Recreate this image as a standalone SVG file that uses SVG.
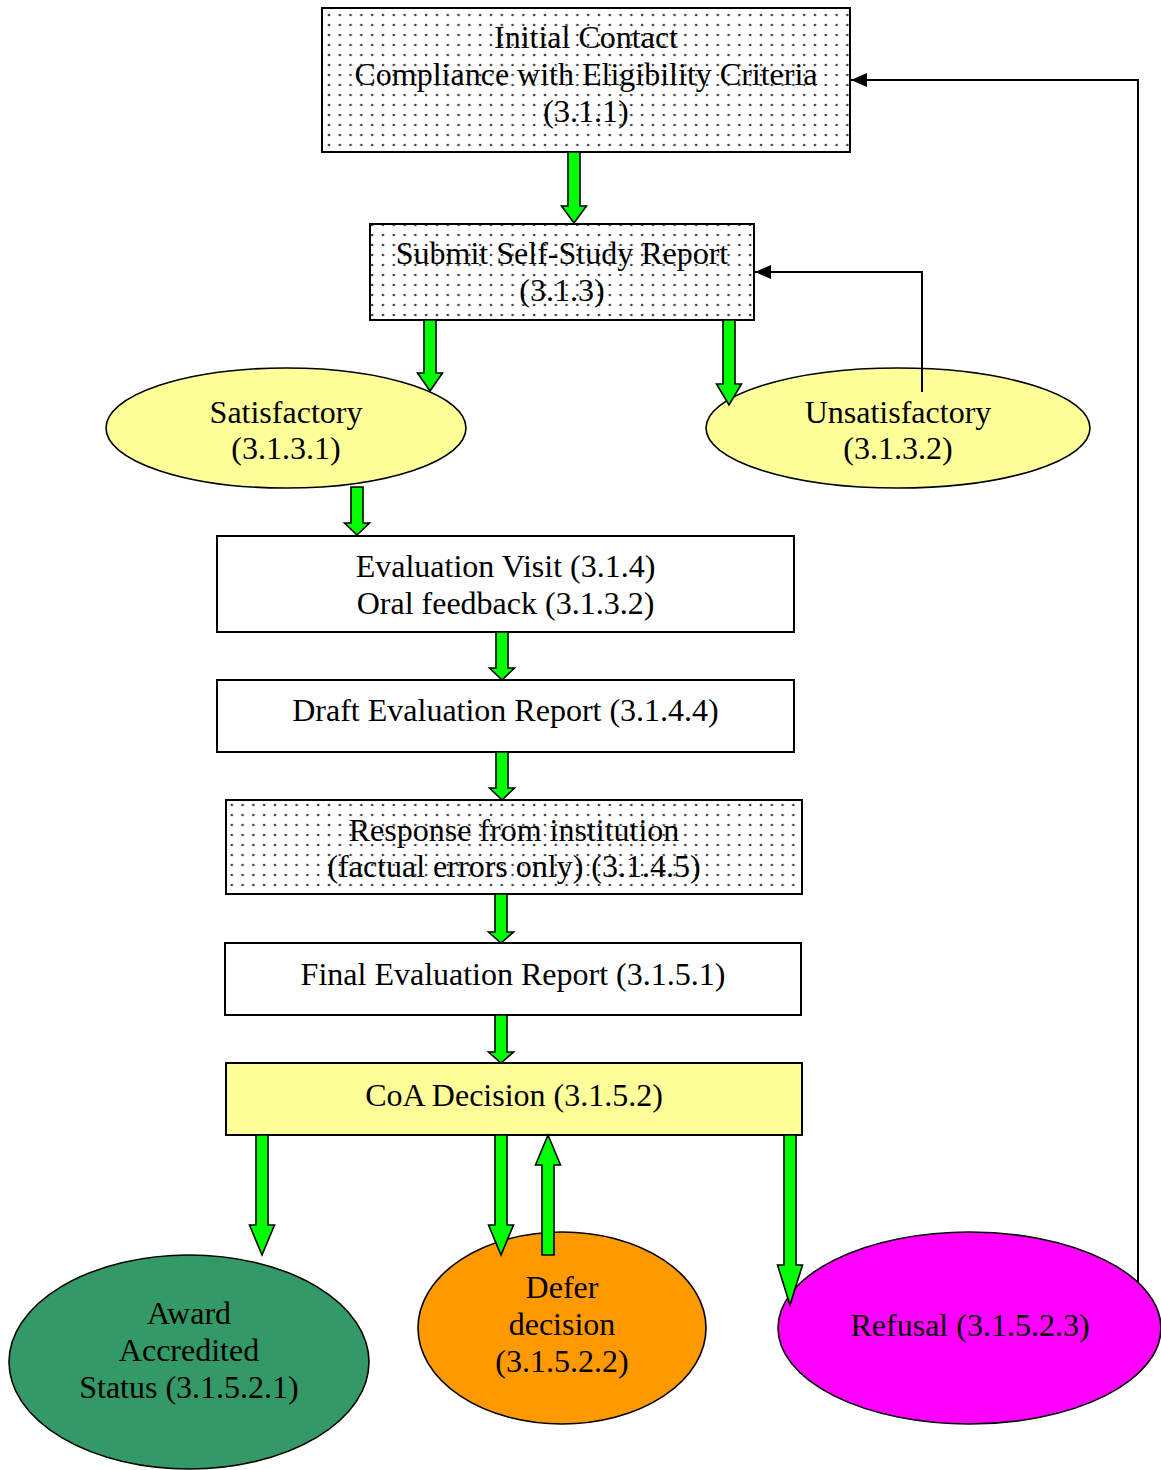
<svg xmlns="http://www.w3.org/2000/svg" width="1161" height="1470" viewBox="0 0 1161 1470">
<defs>
<pattern id="dots" patternUnits="userSpaceOnUse" width="10.8" height="10">
<rect width="10.8" height="10" fill="#ffffff"/>
<circle cx="5" cy="5" r="1.35" fill="#444444"/>
</pattern>
<marker id="ah" markerWidth="16" markerHeight="14" refX="16" refY="7" orient="auto" markerUnits="userSpaceOnUse">
<path d="M0,0 L16,7 L0,14 Z" fill="#000"/>
</marker>
</defs>
<style>
text{font-family:"Liberation Serif","Times New Roman",serif;font-size:32px;fill:#000;text-anchor:middle}
.box{stroke:#000;stroke-width:2}
.ell{stroke:#000;stroke-width:1.6}
.arr{fill:#00ff00;stroke:#000;stroke-width:1.6;stroke-linejoin:miter}
.ln{fill:none;stroke:#000;stroke-width:2}
</style>
<rect width="1161" height="1470" fill="#ffffff"/>

<g id="n-initial">
<rect class="box" x="322" y="8" width="528" height="144" fill="url(#dots)"/>
<text x="586" y="48">Initial Contact</text>
<text x="586" y="85">Compliance with Eligibility Criteria</text>
<text x="586" y="122">(3.1.1)</text>
</g>
<g id="n-submit">
<rect class="box" x="370" y="224" width="384" height="96" fill="url(#dots)"/>
<text x="562" y="264">Submit Self-Study Report</text>
<text x="562" y="301">(3.1.3)</text>
</g>
<g id="n-sat">
<ellipse class="ell" cx="286" cy="428" rx="180" ry="60" fill="#ffff99"/>
<text x="286" y="423">Satisfactory</text>
<text x="286" y="459">(3.1.3.1)</text>
</g>
<g id="n-unsat">
<ellipse class="ell" cx="898" cy="428" rx="192" ry="60" fill="#ffff99"/>
<text x="898" y="423">Unsatisfactory</text>
<text x="898" y="459">(3.1.3.2)</text>
</g>
<g id="n-eval">
<rect class="box" x="217" y="536" width="577" height="96" fill="#ffffff"/>
<text x="505.5" y="577">Evaluation Visit (3.1.4)</text>
<text x="505.5" y="614">Oral feedback (3.1.3.2)</text>
</g>
<g id="n-draft">
<rect class="box" x="217" y="680" width="577" height="72" fill="#ffffff"/>
<text x="505.5" y="721">Draft Evaluation Report (3.1.4.4)</text>
</g>
<g id="n-response">
<rect class="box" x="226" y="800" width="576" height="94" fill="url(#dots)"/>
<text x="514" y="841">Response from institution</text>
<text x="514" y="877">(factual errors only) (3.1.4.5)</text>
</g>
<g id="n-final">
<rect class="box" x="225" y="943" width="576" height="72" fill="#ffffff"/>
<text x="513" y="985">Final Evaluation Report (3.1.5.1)</text>
</g>
<g id="n-coa">
<rect class="box" x="226" y="1063" width="576" height="72" fill="#ffff99"/>
<text x="514" y="1106">CoA Decision (3.1.5.2)</text>
</g>
<g id="n-award">
<ellipse class="ell" cx="189" cy="1362" rx="180" ry="107" fill="#339966"/>
<text x="189" y="1324">Award</text>
<text x="189" y="1361">Accredited</text>
<text x="189" y="1398">Status (3.1.5.2.1)</text>
</g>
<g id="n-defer">
<ellipse class="ell" cx="562" cy="1328" rx="144" ry="96" fill="#ff9900"/>
<text x="562" y="1298">Defer</text>
<text x="562" y="1335">decision</text>
<text x="562" y="1372">(3.1.5.2.2)</text>
</g>
<g id="n-refusal">
<ellipse class="ell" cx="969.5" cy="1328" rx="191.5" ry="96" fill="#ff00ff"/>
<text x="970" y="1336">Refusal (3.1.5.2.3)</text>
</g>

<g id="connectors">
<polygon class="arr" points="568,152 580,152 580,206 586.5,206 574,223 561.5,206 568,206"/>
<polygon class="arr" points="424,320 436,320 436,373 442.5,373 430,391 417.5,373 424,373"/>
<polygon class="arr" points="723,320 735,320 735,384 741.5,384 729,405 716.5,384 723,384"/>
<polygon class="arr" points="351,487 363,487 363,523 369.5,523 357,535 344.5,523 351,523"/>
<polygon class="arr" points="496,632 508,632 508,668 514.5,668 502,680 489.5,668 496,668"/>
<polygon class="arr" points="496,752 508,752 508,788 514.5,788 502,800 489.5,788 496,788"/>
<polygon class="arr" points="495,894 507,894 507,932 513.5,932 501,943 488.5,932 495,932"/>
<polygon class="arr" points="495,1015 507,1015 507,1052 513.5,1052 501,1063 488.5,1052 495,1052"/>
<polygon class="arr" points="256,1135 268,1135 268,1225 274.5,1225 262,1255 249.5,1225 256,1225"/>
<polygon class="arr" points="495,1135 507,1135 507,1225 513.5,1225 501,1255 488.5,1225 495,1225"/>
<polygon class="arr" points="542,1255 554,1255 554,1165 560.5,1165 548,1135 535.5,1165 542,1165"/>
<polygon class="arr" points="784,1135 796,1135 796,1265 802.5,1265 790,1305 777.5,1265 784,1265"/>
<polyline class="ln" points="922,392 922,272 755,272" marker-end="url(#ah)"/>
<polyline class="ln" points="1138,1282 1138,80 851,80" marker-end="url(#ah)"/>
</g>
</svg>
